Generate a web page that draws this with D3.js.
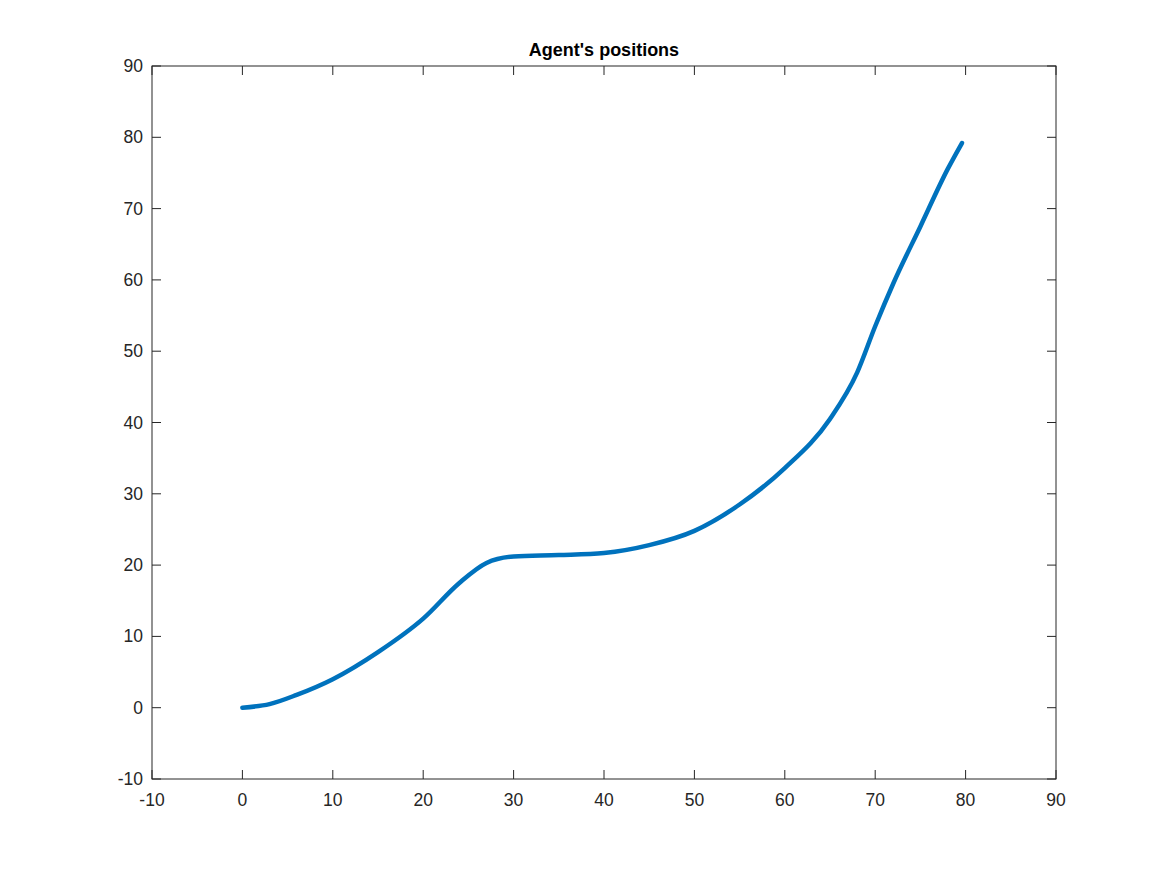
<!DOCTYPE html>
<html><head><meta charset="utf-8">
<script src="https://cdn.jsdelivr.net/npm/d3@7"></script>
<style>body{margin:0;background:#fff}text{font-family:"Liberation Sans",Arial,sans-serif}</style>
</head><body>
<script>
// trajectory
const posX = [0, 3, 6, 10, 15, 20, 24, 27, 30, 35, 40, 45, 50, 55, 60, 65, 68, 70, 72, 75, 78, 79.6]
const posY = [0, 0.5, 1.8, 4, 7.8, 12.5, 17.5, 20.3, 21.2, 21.4, 21.7, 22.8, 24.8, 28.5, 33.6, 40.5, 47, 53.5, 59.5, 67.5, 75.5, 79.2]
const ticks = [-10, 0, 10, 20, 30, 40, 50, 60, 70, 80, 90]

const width = 1167, height = 875
const mLeft = 152, mRight = 1056, mTop = 66, mBottom = 779

const svg = d3.select("body").append("svg").attr("width", width).attr("height", height)
const x = d3.scaleLinear().domain([-10, 90]).range([mLeft, mRight])
const y = d3.scaleLinear().domain([-10, 90]).range([mBottom, mTop])

const tk = 9
const g = svg.append("g").attr("stroke", "#262626").attr("stroke-width", 1)
ticks.forEach(t => {
    g.append("line").attr("x1", x(t)).attr("x2", x(t)).attr("y1", mBottom).attr("y2", mBottom - tk)
    g.append("line").attr("x1", x(t)).attr("x2", x(t)).attr("y1", mTop).attr("y2", mTop + tk)
    g.append("line").attr("y1", y(t)).attr("y2", y(t)).attr("x1", mLeft).attr("x2", mLeft + tk)
    g.append("line").attr("y1", y(t)).attr("y2", y(t)).attr("x1", mRight).attr("x2", mRight - tk)
})
g.append("rect").attr("x", mLeft).attr("y", mTop).attr("width", mRight - mLeft).attr("height", mBottom - mTop).attr("fill", "none")

svg.selectAll(".xl").data(ticks).join("text").attr("x", d => x(d)).attr("y", mBottom + 27)
    .attr("text-anchor", "middle").attr("font-size", 17.5).attr("fill", "#262626").text(d => d)
svg.selectAll(".yl").data(ticks).join("text").attr("x", mLeft - 9).attr("y", d => y(d) + 6)
    .attr("text-anchor", "end").attr("font-size", 17.5).attr("fill", "#262626").text(d => d)

svg.append("text").attr("x", (mLeft + mRight) / 2).attr("y", 56).attr("text-anchor", "middle")
    .attr("font-size", 18).attr("font-weight", "bold").text("Agent's positions")

const pts = posX.map((v, i) => [v, posY[i]])
svg.append("path").attr("d", d3.line().x(d => x(d[0])).y(d => y(d[1])).curve(d3.curveMonotoneX)(pts))
    .attr("fill", "none").attr("stroke", "#0072BD").attr("stroke-width", 4.5).attr("stroke-linecap", "round")
</script>
</body></html>
